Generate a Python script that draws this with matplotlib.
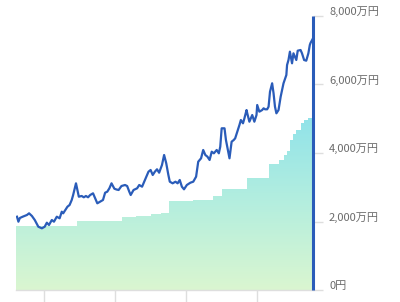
import numpy as np
import matplotlib
matplotlib.use("Agg")
import matplotlib.pyplot as plt
from matplotlib.colors import LinearSegmentedColormap
from matplotlib.patches import PathPatch
from matplotlib.path import Path
from matplotlib.transforms import ScaledTranslation, blended_transform_factory

plt.rcParams['font.family'] = ['Noto Sans CJK JP', 'DejaVu Sans']

# ---- data (values in 万円, time in fractional years) ----
asset_t = [2019.62, 2019.64, 2019.66, 2019.70, 2019.76, 2019.79, 2019.83, 2019.87, 2019.92, 2019.97,
           2020.01, 2020.04, 2020.07, 2020.11, 2020.14, 2020.18, 2020.22, 2020.25, 2020.27, 2020.30,
           2020.33, 2020.36, 2020.39, 2020.41, 2020.45, 2020.47, 2020.49, 2020.53, 2020.56, 2020.59,
           2020.62, 2020.65, 2020.69, 2020.72, 2020.75, 2020.79, 2020.83, 2020.86, 2020.89, 2020.92,
           2020.95, 2020.99, 2021.02, 2021.05, 2021.09, 2021.14, 2021.17, 2021.20, 2021.22, 2021.26,
           2021.31, 2021.34, 2021.38, 2021.40, 2021.44, 2021.47, 2021.50, 2021.53, 2021.56, 2021.59,
           2021.62, 2021.66, 2021.69, 2021.72, 2021.75, 2021.77, 2021.81, 2021.85, 2021.88, 2021.91,
           2021.94, 2021.97, 2022.01, 2022.06, 2022.10, 2022.14, 2022.17, 2022.21, 2022.24, 2022.27,
           2022.30, 2022.33, 2022.36, 2022.39, 2022.43, 2022.46, 2022.48, 2022.50, 2022.54, 2022.56,
           2022.61, 2022.64, 2022.67, 2022.69, 2022.72, 2022.75, 2022.77, 2022.80, 2022.82, 2022.85,
           2022.86, 2022.89, 2022.93, 2022.96, 2022.99, 2023.00, 2023.03, 2023.07, 2023.09, 2023.11,
           2023.14, 2023.16, 2023.18, 2023.21, 2023.23, 2023.25, 2023.27, 2023.30, 2023.33, 2023.37,
           2023.41, 2023.42, 2023.44, 2023.46, 2023.49, 2023.51, 2023.55, 2023.57, 2023.61, 2023.63,
           2023.66, 2023.69, 2023.72, 2023.74, 2023.75, 2023.78]
asset_v = [2140, 1994, 2102, 2140, 2190, 2239, 2161, 2044, 1848, 1801,
           1848, 1965, 1898, 2044, 1994, 2140, 2093, 2286, 2239, 2336,
           2432, 2482, 2628, 2774, 3115, 2920, 2724, 2745, 2707, 2745,
           2707, 2774, 2823, 2677, 2531, 2578, 2628, 2841, 2870, 2969,
           3115, 2958, 2934, 2920, 3036, 3066, 3036, 2870, 2774, 2920,
           2969, 3066, 3016, 3115, 3308, 3454, 3504, 3358, 3454, 3524,
           3425, 3650, 3942, 3699, 3358, 3162, 3115, 3162, 3115, 3212,
           3016, 2940, 3066, 3133, 3162, 3308, 3746, 3845, 4088, 3942,
           3892, 3796, 4038, 3991, 4088, 3991, 4184, 4721, 4721, 4380,
           3845, 4330, 4380, 4429, 4622, 4818, 4963, 4867, 5013, 5255,
           5159, 4914, 5109, 4914, 5109, 5401, 5206, 5255, 5305, 5276,
           5276, 5352, 5790, 6035, 5743, 5352, 5159, 5255, 5644, 6035,
           6277, 6569, 6715, 6958, 6619, 6911, 6715, 6987, 7007, 6911,
           6715, 6695, 6911, 7153, 7212, 7328]

principal_t = [2019.606, 2020.46, 2021.10, 2021.30, 2021.50, 2021.65, 2021.76, 2022.10, 2022.38,
               2022.51, 2022.86, 2023.17, 2023.30, 2023.37, 2023.42, 2023.46, 2023.50, 2023.55,
               2023.61, 2023.66, 2023.72, 2023.785]
principal_v = [1880, 2010, 2130, 2170, 2210, 2250, 2600, 2640, 2750,
               2950, 3270, 3680, 3800, 3940, 4060, 4380, 4550, 4670,
               4876, 4950, 5022, 5110]

x_ticks = [2020, 2021, 2022, 2023]
y_ticks = [0, 2000, 4000, 6000, 8000]
y_labels = ['0円', '2,000万円', '4,000万円', '6,000万円', '8,000万円']

blue = '#2a5cb9'
label_color = '#6b6b6b'
grid_gray = '#dedede'

fig = plt.figure(figsize=(4.0, 3.02), dpi=100)
ax = fig.add_axes([16/400, 12/302, 297/400, 274/302])
x0, x1 = 2019.606, 2023.785
ax.set_xlim(x0, x1)
ax.set_ylim(0, 8000)

# gradient-filled principal area (step shape)
verts = [(principal_t[0], 0)]
for i, (t, v) in enumerate(zip(principal_t, principal_v)):
    if i > 0:
        verts.append((t, principal_v[i-1]))
    verts.append((t, v))
verts.append((principal_t[-1], 0))
verts.append((principal_t[0], 0))
path = Path(verts)
patch = PathPatch(path, facecolor='none', edgecolor='none', transform=ax.transData)
ax.add_patch(patch)
cmap = LinearSegmentedColormap.from_list('g', ['#daf6d0', '#b3eedf', '#8ee2ea'])
grad = np.linspace(0, 1, 256).reshape(-1, 1)
im = ax.imshow(grad, extent=[x0, x1, 0, 5200], origin='lower', aspect='auto',
               cmap=cmap, zorder=1, interpolation='bilinear')
im.set_clip_path(patch)
ax.set_xlim(x0, x1)
ax.set_ylim(0, 8000)

ax.plot(asset_t, asset_v, color=blue, lw=1.6, zorder=3, solid_joinstyle='round')
ax.vlines(asset_t[-1] + 0.004, 0, 8000, color=blue, lw=2.2, zorder=4, clip_on=False)

for s in ['top', 'left', 'right']:
    ax.spines[s].set_visible(False)
ax.spines['bottom'].set_color(grid_gray)
ax.spines['bottom'].set_linewidth(1.0)

ax.set_xticks(x_ticks)
ax.set_xticklabels([])
ax.tick_params(axis='x', length=8.6, color=grid_gray, width=1.0, direction='out')

ax.yaxis.tick_right()
ax.set_yticks(y_ticks)
ax.set_yticklabels([])
ax.tick_params(axis='y', length=7.2, color=grid_gray, width=1.0, direction='out')

trans = blended_transform_factory(ax.transAxes, ax.transData) + \
    ScaledTranslation(16/100, 4/100, fig.dpi_scale_trans)
for v, lab in zip(y_ticks, y_labels):
    ax.text(1.0, v, lab, transform=trans, ha='left', va='center',
            fontsize=8, color=label_color)

fig.savefig('out.png', dpi=100)
